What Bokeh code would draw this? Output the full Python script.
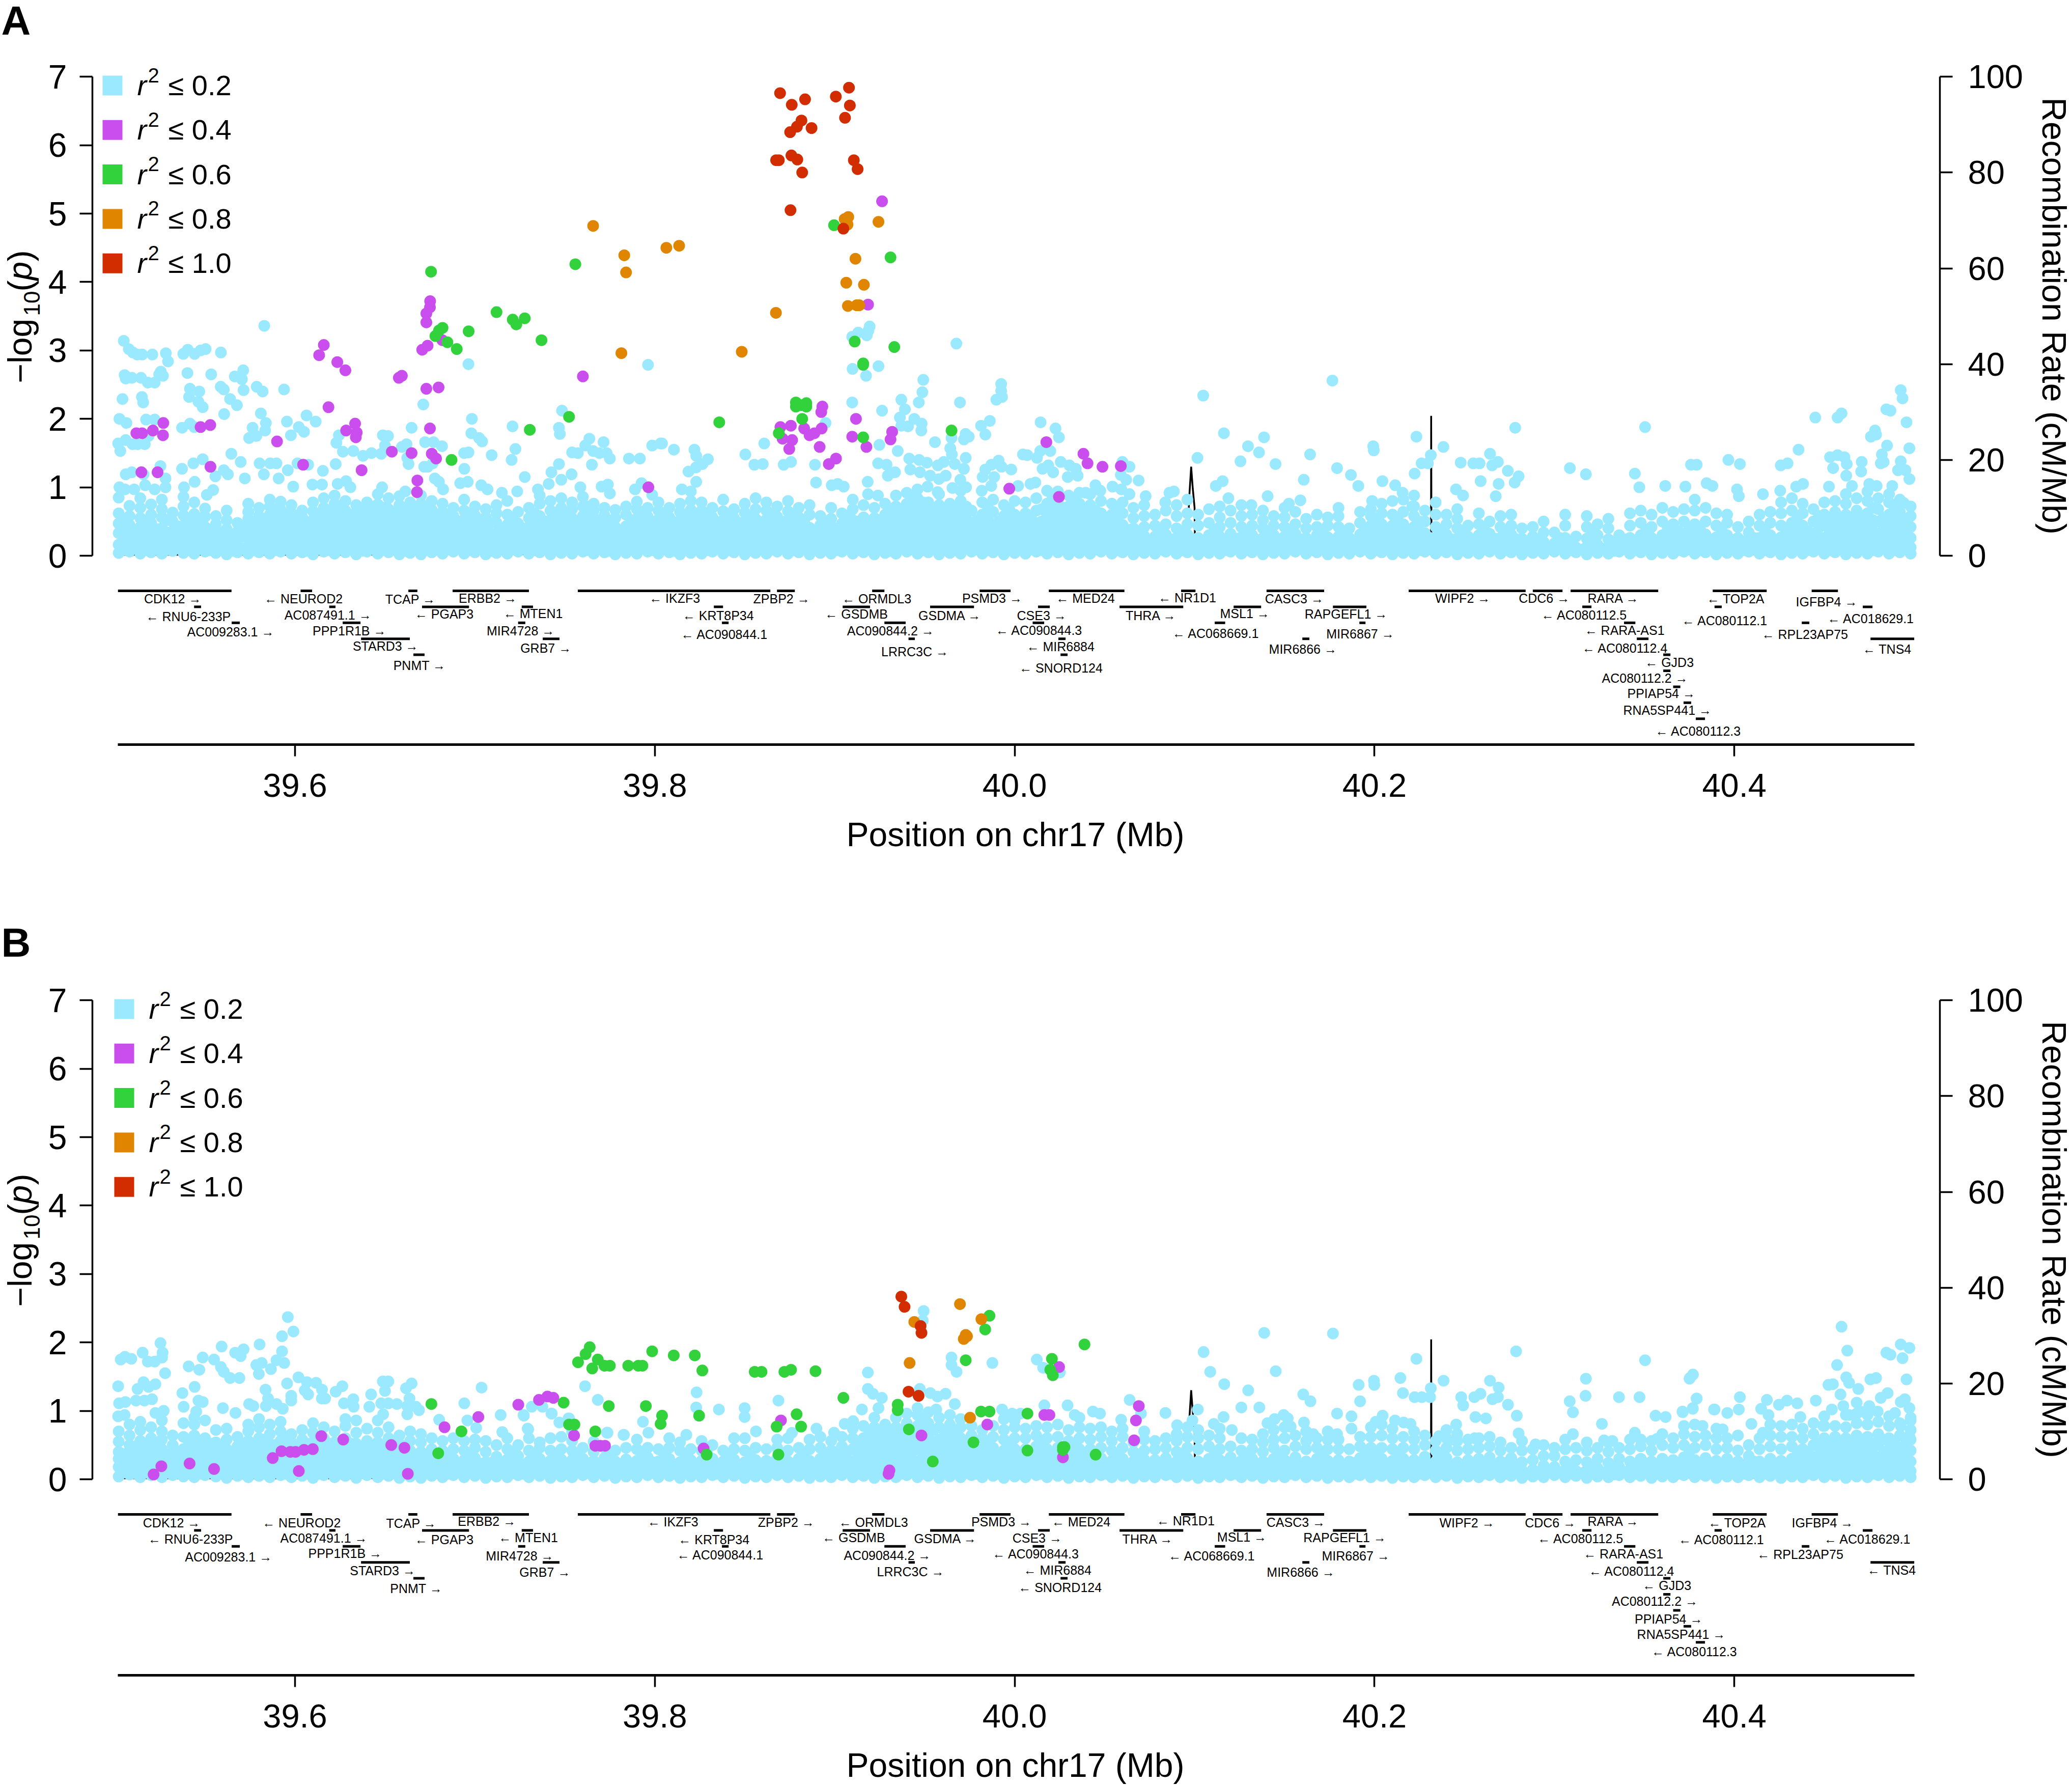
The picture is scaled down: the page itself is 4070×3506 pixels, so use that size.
from bokeh.plotting import figure
from bokeh.layouts import column, row
from bokeh.models import Range1d, LinearAxis, FixedTicker, ColumnDataSource
from bokeh.core.properties import value
from bokeh.embed import file_html
from bokeh.resources import INLINE

# ---- positions are in kb downstream of 39.5 Mb; -log10(p) values ----
x_ticks = [39.6, 39.8, 40.0, 40.2, 40.4]
x_tick_labels = ["39.6", "39.8", "40.0", "40.2", "40.4"]
p_ticks = [0, 1, 2, 3, 4, 5, 6, 7]
rec_ticks = [0, 20, 40, 60, 80, 100]
legend_labels = ["0.2", "0.4", "0.6", "0.8", "1.0"]
colors = ["#9BE9FF", "#CA4DEE", "#31D23B", "#E08500", "#D12D00"]

rec_kb = [0,120,180,200,210,300,400,500,590,596.5,596.6,596.8,597,598.1,599,600,600.3,700,731.4,731.5,731.7,800,900,985,990,990.5,991.2,993,994,1000]
rec_val = [.2,.2,.3,.9,.3,.5,.7,.5,.4,.4,5.7,10,12,18.6,14,10,.5,.4,.4,29.2,.4,.5,.3,.5,.5,5,11.7,9,1,.5]

gene_names = ["CDK12","NEUROD2","TCAP","ERBB2","IKZF3","ZPBP2","ORMDL3","PSMD3","MED24","NR1D1","CASC3","WIPF2","CDC6","RARA","TOP2A","IGFBP4",
 "RNU6-233P","AC087491.1","PGAP3","MTEN1","KRT8P34","GSDMB","GSDMA","CSE3","THRA","MSL1","RAPGEFL1","AC080112.5","AC080112.1","AC018629.1",
 "AC009283.1","PPP1R1B","MIR4728","AC090844.1","AC090844.2","AC090844.3","AC068669.1","MIR6867","RARA-AS1","RPL23AP75",
 "STARD3","GRB7","LRRC3C","MIR6884","MIR6866","AC080112.4","TNS4",
 "PNMT","SNORD124","GJD3","AC080112.2","PPIAP54","RNA5SP441","AC080112.3"]
gene_dir = [1,-1,1,1,-1,1,-1,1,-1,-1,1,1,1,1,-1,1,
 -1,1,-1,-1,-1,-1,1,1,1,1,1,-1,-1,-1,
 1,1,1,-1,1,-1,-1,1,-1,-1,
 1,1,1,-1,1,-1,-1,
 1,-1,-1,1,1,1,-1]
gene_row = [0]*16+[1]*14+[2]*10+[3]*7+[4]*3+[5,6,7,8]
gene_start = [1.6,103.1,163,187.6,257.2,367.9,420.8,480.5,519,592.5,640,719,788,809,888,943,
 43.9,119,170.6,226,332.8,404.4,453,513,558.3,621.7,676.9,815.5,889,971.4,
 64.8,126.5,224,337.3,427.6,510,611.2,691.6,838.7,937.5,
 136.7,237.7,441,524.3,659.9,845.8,975.7,
 165.8,525.5,860.5,860.5,866,871.8,878.6]
gene_end = [64.7,109.5,168,230,364.2,377.8,427.6,497.7,561,600.5,672,784,804.5,857.7,918,957.6,
 47.8,122.5,196.7,232.3,337.9,419.6,477.4,519.5,593.7,637,695.5,820.6,893,976.8,
 69.3,136.4,228,341,439.4,516.4,617,695,845,941.7,
 163.8,247,444.5,528.3,663.8,852.3,1000,
 172,529.4,864.5,864.5,870,876,883.7]
label_kb_a = [32,104.7,164.1,207.1,311,370.4,423.3,487.5,539.3,595.9,655.4,749,794.3,832.8,900.7,951.3,
 40.7,118.3,182.9,232.3,335.2,412,464,515,575.8,627.9,684.2,816.6,894.7,975.9,
 64.2,130.2,225.4,338.7,431,513.6,611.8,692.1,839,939.2,
 150.3,239.4,444.5,525.5,660.2,839.3,984.9,
 169.2,525.7,863.9,850.3,859.4,862.8,880]
label_row_a = [.48,.48,.53,.46,.46,.48,.48,.46,.46,.43,.48,.46,.46,.46,.48,.7,
 1.62,1.5,1.46,1.43,1.53,1.46,1.56,1.56,1.56,1.43,1.45,1.5,1.85,1.75,
 2.56,2.5,2.5,2.71,2.5,2.48,2.66,2.69,2.48,2.71,
 3.44,3.57,3.79,3.49,3.66,3.57,3.66,
 4.68,4.84,4.49,5.45,6.43,7.48,8.78]
label_kb_b = [31.4,103.6,164.6,206.6,310,373,421.5,492.6,536.9,595,656.3,751.4,797.7,832.8,901.5,949,
 41.9,116,182.9,229.6,332.8,410.5,461.6,512.5,574,626.3,683.5,814.6,892.9,974,
 63,127.8,224.9,336.4,429.2,511.8,609.6,689.6,838.3,936.6,
 148.7,238.9,442.1,523.8,659,843,987.4,
 167.4,525.2,862.5,855.8,863.5,870.5,877.9]
label_row_b = [.51,.53,.56,.43,.46,.49,.49,.46,.46,.4,.48,.54,.54,.43,.54,.54,
 1.54,1.49,1.57,1.46,1.59,1.46,1.51,1.48,1.53,1.43,1.46,1.5,1.58,1.54,
 2.65,2.44,2.6,2.52,2.57,2.47,2.6,2.6,2.48,2.5,
 3.52,3.6,3.58,3.5,3.6,3.56,3.5,
 4.63,4.58,4.44,5.43,6.54,7.49,8.57]

# ---------- Panel A points ----------
purple_a = [(11.8,1.79),(15,1.79),(21,1.83),(26.8,1.94),(26.6,1.76),(47.5,1.88),(52.9,1.91),(14.6,1.22),(23.6,1.22),(53,1.3),(104.5,1.33),(90,1.67),(118.6,2.17),(113.4,2.93),(116,3.08),(123.5,2.83),(128,2.71),(133.4,1.93),(128.4,1.83),(134.3,1.8),(133.8,1.73),(137,1.25),(153.8,1.52),(164.8,1.5),(168,1.1),(167.8,.93),(157.7,2.6),(159.4,2.63),(170.7,3.01),(173.7,3.07),(173,3.54),(175,3.63),(175.1,3.72),(173,3.41),(181.9,3.15),(173,2.44),(179.8,2.46),(175,1.86),(176,1.49),(178.4,1.42),(260,2.62),(296.4,1),
 (426.3,5.18),(418.5,3.67),(393.1,2.18),(392.5,2.1),(411.8,2),(369.8,1.88),(375.6,1.9),(383,1.86),(386,1.76),(388.7,1.79),(392.7,1.86),(371,1.71),(376.3,1.69),(374.7,1.56),(391.6,1.59),(409.7,1.74),(417.6,1.59),(431.9,1.81),(431,1.7),(400.7,1.42),(396.7,1.34),(517.6,1.66),(538.2,1.49),(540.5,1.35),(548.8,1.3),(559,1.31),(497,.98),(524.6,.86)]
green_a = [(175.6,4.15),(178,3.21),(180,3.29),(182,3.33),(184.7,3.12),(189.9,3.02),(196.5,3.28),(212,3.56),(221,3.45),(223,3.38),(227.7,3.47),(237,3.15),(187,1.4),(230.5,1.84),(252.3,2.03),(255.8,4.26),
 (399.6,4.83),(431,4.36),(411.1,3.13),(433.1,3.05),(415.8,2.81),(415.8,2.79),(335.8,1.95),(378.4,2.24),(378.4,2.18),(381.5,2.2),(384.2,2.23),(384.2,2.18),(381.9,2),(368.9,1.79),(415.8,1.73),(464.9,1.83)]
orange_a = [(265.7,4.82),(283,4.39),(284,4.14),(281.4,2.96),(306.4,4.5),(313.5,4.53),(348.3,2.98),(367.3,3.55),(411.5,4.34),(406.4,3.99),(416.2,3.96),(407.3,3.65),(412.2,3.66),(413.6,3.66),(424.3,4.88),(405.5,4.92),(407.5,4.95),(407.1,4.84)]
red_a = [(369.6,6.76),(376.1,6.59),(383.5,6.67),(400.6,6.71),(407.9,6.84),(408.4,6.58),(405.7,6.4),(381.5,6.36),(379,6.27),(375.2,6.19),(387.1,6.25),(367.4,5.78),(368.9,5.78),(375.9,5.85),(379.2,5.79),(381.9,5.6),(410.6,5.78),(412.7,5.65),(375.4,5.05),(404.8,4.78)]
cyan_hi_a = [(4.8,3.14),(7.6,3.02),(9.9,2.97),(12.3,2.94),(15,2.94),(20.7,2.94),(28.2,2.96),(29.4,2.84),(37.9,2.95),(40.4,3.01),(44.2,2.95),(47.5,3),(50.3,3.02),(58.8,2.97),(82.9,3.36),
 (5.3,2.64),(5.9,2.59),(9.3,2.6),(14.4,2.6),(18.2,2.53),(22,2.53),(25.4,2.69),(24.5,2.65),(26.6,2.63),(40.2,2.67),(53.4,2.65),(66.5,2.62),(71.2,2.71),(70.5,2.58),(71.4,2.42),(58.7,2.47),(60.4,2.43),(78.7,2.47),(82,2.4),(41.6,2.44),(46.8,2.4),(41.1,2.32),(46.3,2.25),(48.7,2.17),(4.1,2.29),(14.9,2.32),(15.6,2.24),(63.9,2.29),(67.7,2.2),(60.6,2.07),(93.9,2.43),
 (2.4,2),(6.3,1.94),(17.2,1.99),(22,1.99),(37.2,1.87),(41.6,1.93),(44,1.88),(1.7,1.64),(2.9,1.53),(5.9,1.69),(9.7,1.63),(12.5,1.63),(16.5,1.63),(18.6,1.75),(81,2.08),(83.8,1.94),(76.4,1.87),(83.4,1.83),(74.5,1.72),(78.5,1.75),(95.5,1.96),(97.7,1.76),(102.1,1.88),(105,1.81),(106.4,2.05),(111.5,1.96),(124.4,1.76),(123,1.65),
 (64.6,1.49),(69.8,1.37),(25.2,1.31),(37.2,1.27),(43.5,1.35),(48.7,1.41),(55.7,1.16),(60.4,1.25),(62.7,1.19),(72.1,1.13),(80.3,1.35),(86.2,1.35),(89.7,1.35),(82.7,1.19),(90.9,1.13),(96,1.25),(101.4,1.35),(107.3,1.33),(115.5,1.24),(122.6,1.34),(126.6,1.52),(132.4,1.53),(137.8,1.46),(142.5,1.5),(147.9,1.49),(148.8,1.76),(151.7,1.75),(150,1.61),(159.4,1.59),(162,1.63),(164.8,1.87),(171.3,2.21),(162.4,1.43),(163.1,1.34),(172.3,1.66),(177,1.66),(181.7,1.6),(198.3,2),(198,1.79),(202.3,1.72),(204,1.67),(196.4,2.8),(220.9,1.89),(222.5,1.56),(220.4,1.4),(209.3,1.47),(194,1.5),(196.4,1.51),(194.1,1.27),(171.8,1.3),(173.7,1.3),(176.5,1.35),(227.7,1.15),(246.7,1.87),(247.2,1.78),(248.4,2.12),(296.2,2.79),(263.6,1.71),(261.3,1.61),(271.5,1.66),(265.7,1.53),(269.2,1.5),(273.2,1.5),(275,1.42),(265,1.33),(254,1.51),(257.2,1.5),(246.7,1.34),(253.7,1.19),(242.5,1.22),(248,1.11),(285.6,1.42),(291.7,1.42),(298.5,1.61),(303.2,1.64),(292.6,1.06),(289,.97),(298.5,.89),
 (2.4,1),(5.5,.97),(10.6,.97),(16.7,1.03),(22,.97),(28,1),(28,1.13),(15.8,1.19),(5.9,1.19),(9.3,1.22),(38.3,1),(44.2,1.08),(54.5,.96),(51,.89),(99,1.01),(109.7,1.04),(115,1.04),(123.7,1.05),(128.4,1.09),(130.8,1),(148.4,1),(161.3,.94),(177.7,1.13),(180,1.08),(182.3,.97),(191.8,1.06),(196,1.08),(203.5,1.03),(207,.97),(215,.92),(223.5,.94),(235,.97),(241,1.05),(258.6,1),(270.4,1.01),(273.9,1.04),(275,.91),
 (304,1.64),(310.6,1.55),(322,1.55),(323,1.46),(326.5,1.34),(329.5,1.41),(322.9,1.29),(318.7,1.23),(323,1.08),(315,.97),(320,.94),(350.3,1.48),(360.8,1.64),(355.3,1.33),(360,1.34),(371.6,1.33),(375.7,1.37),(389,1.33),(394.9,1.94),(409.7,2.24),(426.3,2.12),(437,2.28),(439,2.14),(446.7,2.24),(448.7,2.39),(449.2,2.57),(436.2,2.02),(437,1.9),(440.7,1.89),(444.2,2),(448.3,1.93),(448.1,1.83),(469.6,2.24),(467.6,3.1),(492.5,2.51),(492.5,2.41),(489.8,2.28),(493,2.32),(486.2,1.97),(481.3,1.9),(483.7,1.77),(464.9,1.72),(471.8,1.7),(474.5,1.74),(472.7,1.78),(455.7,1.66),(424.8,1.62),(435,1.53),(464.2,1.57),(465.1,1.48),(472.8,1.43),(514.4,1.95),(522.7,1.86),(524.6,1.73),(514.2,1.53),(519.8,1.53),(512.4,1.43),(504.6,1.48),(507,1.47),
 (409.7,3.2),(413,3.26),(417.8,3.22),(419.4,3.35),(418.7,3.29),(409.9,2.73),(424.3,2.77),(417.4,2.63),(389.6,1.07),(398.3,1.03),(401.6,1.05),(405,1.01),(418.3,1.08),(418.5,.9),(424,.88),(424.1,1.35),(428.8,1.33),(429.5,1.17),(433.5,1.22),(441.4,1.42),(446.9,1.4),(451.2,1.36),(442,1.26),(447.4,1.22),(453,1.17),(457.3,1.32),(460.6,1.37),(461.7,1.17),(457.9,1.12),(466.7,1.34),(471.8,1.27),(469.8,1.11),(473,1),(451.6,1.01),(465.4,.99),(457.2,.93),(487.1,1.33),(491.1,1.39),(492.7,1.3),(498.1,1.26),(483.7,1.26),(482.2,1.15),(488.6,1.15),(487,1.02),(481.7,.95),(501.9,1.02),(508.8,1.05),(515.5,1.27),(518.7,1.32),(525.6,1.37),(530.4,1.32),(534,1.27),(529.5,1.15),(535,1.17),(521.4,1.22),(511.5,1.07),(544.9,1.03),(554.4,1.01),(539.5,.92),(547.6,.95),(559.3,.97),(563.8,.9),(559.9,1.37),(563.8,1.3),(559,1.18),(562,1.11),(568.9,1.1),(572.8,.87),(586,.92),(583.7,.78),
 (604.8,2.34),(616.3,1.79),(638.6,1.73),(629.7,1.6),(635.8,1.51),(625.5,1.38),(645,1.34),(601.6,1.43),(676.6,2.56),(664.2,1.48),(679.2,1.28),(686.9,1.18),(691,1.02),(699.3,1.6),(699.6,1.54),(723.3,1.74),(738.3,1.59),(731.3,1.47),(726.2,1.35),(729.7,1.35),(722.3,1.2),(747.9,1.36),(754.9,1.35),(758.4,1.35),(764.2,1.49),(765.4,1.32),(768.6,1.37),(774.1,1.24),(778.2,1.87),(780.1,1.16),(777.9,1.07),(769,1.05),(759,1.09),(745.3,.97),(749.2,.88),(767.4,.87),(808.6,1.28),(817.5,1.19),(850.4,1.88),(844.7,1.2),(847.2,1),(861.6,1.02),(872.8,1.01),(875.9,1.33),(879.1,1.33),(896.7,1.4),(903.1,1.34),(884.6,1.06),(887.8,1.02),(901.5,.97),(902.5,.87),
 (935.7,1.55),(925.8,1.32),(929.6,1.35),(945,2.02),(957.4,2.02),(959.6,2.08),(953.2,1.44),(957.4,1.47),(961.2,1.44),(954.9,1.28),(962.5,1.34),(962.2,1.17),(984.5,2.14),(986.8,2.12),(992.5,2.42),(993.5,2.3),(995.7,1.95),(997.3,1.57),(975.9,1.74),(978.8,1.77),(978.2,1.83),(984.9,1.61),(982,1.48),(983,1.37),(981.4,1.35),(992.5,1.38),(970.8,1.37),(970.5,1.23),(965.4,1.02),(952.6,1.01),(938.2,1.05),(934.4,1.01),(925.5,.95),(915.9,.9),(975,1.05),(979.1,1.02),(987.8,1.02),(991,1.25),(995.1,1.25),(997.3,1.12),(994.2,.77),
 (588.5,.94),(611.8,1.02),(615.6,1.09),(618.8,.84),(631.6,.74),(640.6,.87),(660.7,1.11),(658.8,.81),(652.4,.76),(704.4,1.09),(711.5,1.03),(715.6,.92),(721,.72),(698.7,.8)]
# dense lower band: kb -> -log10(p) x 100
cyan_lo_a = {2:[4,16,33,47,62,85],8:[6,20,31,45,58,73],14:[3,12,27,42,55,70,84],20:[5,18,30,48,60,75],26:[3,14,29,40,56,68,82],32:[7,21,36,50,63],38:[4,15,28,44,59,72,86],44:[3,17,33,47,61,78],50:[6,19,31,42,57,69],56:[4,13,27,46,58],62:[2,16,30,39,52,66],68:[5,20,35,48],74:[3,14,26,41,54,64,76],80:[5,18,32,44,58,70],86:[3,12,24,36,48,60,72,82],92:[6,17,29,42,55,67,79],98:[3,15,27,38,50,62,74],104:[5,16,30,43,56,66],110:[2,13,25,39,52,65,78],116:[6,18,31,44,57,70,84],122:[3,14,26,38,50,63,76,88],128:[5,17,29,41,54,66,80],134:[2,12,24,37,49,62,74],140:[6,16,28,40,53,65,78],146:[3,14,26,39,51,64,75,90],152:[5,18,30,43,55,68,84],158:[2,13,25,37,50,62,74,87],164:[4,16,28,40,52,65,78],170:[2,14,26,38,51,63,76,88],176:[5,17,29,42,54,67,80],182:[3,15,27,39,52,64,76],188:[6,18,30,43,58,70],194:[3,14,27,41,53,66,82],200:[5,16,31,44,59,72],206:[2,13,25,40,56,68],212:[4,18,33,48,62,74],218:[3,15,29,45,60,80],224:[6,19,34,47,64],230:[3,14,26,42,55,70],236:[5,17,30,44,58,76,88],242:[2,13,27,39,52,66,80],248:[4,16,29,43,56,70,84],254:[3,15,28,41,55,68,78],260:[6,18,30,44,58,72,86],266:[3,14,27,40,53,66,76],272:[5,17,31,45,59,70],278:[2,13,26,42,55,67],284:[4,16,29,43,60,72],290:[3,15,27,41,54,68,79],296:[6,18,32,44,57,70],302:[3,14,26,40,53,66,78],308:[5,17,30,42,56,70],314:[2,13,25,38,51,64,76],320:[4,16,28,41,54,67,80],326:[3,15,27,40,53,66,78],332:[6,18,30,43,56,70],338:[3,14,26,39,52,65,82],344:[5,17,29,42,55,68],350:[2,13,25,38,50,63,76],356:[4,16,28,41,54,68,84],362:[3,15,27,40,53,66,78],368:[6,18,31,44,57,72],374:[3,14,26,39,52,65,80],380:[5,17,30,43,56,70],386:[2,13,27,41,60,74],392:[4,16,30,45,58],398:[3,15,28,42,54,70],404:[6,18,33,47,62],410:[3,14,26,38,52,68,82],416:[5,17,31,44,56,74],422:[2,13,25,40,55,70],428:[4,16,29,44,60,76],434:[3,15,28,42,58,72,88],440:[6,18,30,44,60,76,92],446:[3,14,26,40,55,70,84,97],452:[5,17,31,45,62,78],458:[2,13,27,42,58,74,90],464:[4,16,29,43,60,76],470:[3,15,28,44,62,80,95],476:[6,18,32,48,66],482:[3,14,27,42,60,78],488:[5,17,30,46,64,82],494:[2,13,25,41,58,74],500:[4,16,29,44,60,80],506:[3,15,28,43,62,78],512:[6,18,33,48,66,84],518:[3,14,27,42,58,76,95],524:[5,17,30,45,62,78,94],530:[2,13,26,41,56,72,88],536:[4,16,29,44,60,76,92],542:[3,15,28,43,58,74,90],548:[6,18,31,46,62,80],554:[3,14,27,42,60,76],560:[5,17,30,45,62,78],566:[2,13,26,40,55,70],572:[4,16,29,42,58,74],578:[3,15,28,44,60],584:[6,18,31,46,66],590:[3,14,26,40,58,74],596:[5,17,31,46,62,82],602:[2,13,26,44,60],608:[4,16,30,48,68],614:[3,15,28,42,56,72],620:[6,18,32,48,66],626:[3,14,27,42,58,74],632:[5,17,30,44,60],638:[2,13,26,40,52,66],644:[4,16,30,44,58],650:[3,15,28,42,56,70],656:[6,18,32,46,64],662:[3,14,26,40,54],668:[5,17,30,42,60],674:[2,13,27,44,56],680:[4,16,28,42,58,70],686:[3,15,26,40],692:[6,18,31,48,64],698:[3,14,28,44,58,68],704:[5,17,30,46,62,76],710:[2,13,27,44,60,80],716:[4,16,30,46,64,82],722:[3,15,28,42,58,72,88],728:[6,18,33,50,66],734:[3,14,26,42,60,78],740:[5,17,31,46,60],746:[2,13,25,40,54,68],752:[4,16,28,44],758:[3,15,30,46,62],764:[6,18,32,50],770:[3,14,26,42,58],776:[5,17,31,44,60],782:[2,13,25,40],788:[4,14,28,42],794:[3,9,20,34,50],800:[6,18,34],806:[3,14,26,44,60],812:[5,12,28],818:[2,13,25,42,58],824:[4,16,30,46],830:[3,11,24,40,54],836:[6,18,30],842:[3,14,26,44,62],848:[5,17,30,48,66],854:[2,13,26,42,60],860:[4,16,30,50,70],866:[3,15,28,46,64],872:[6,18,32,50,68],878:[3,14,28,46,66,82],884:[5,17,31,50,70],890:[2,13,27,44,62],896:[4,16,30,48,60],902:[3,15,26,42],908:[6,18,34,50],914:[3,14,26,44,60],920:[5,17,30,48,64],926:[2,13,27,44,62,78],932:[4,16,30,48,66,84],938:[3,15,28,44,62,76],944:[6,18,32,50,68],950:[3,14,26,44,60,78],956:[5,17,31,46,64,80],962:[2,13,27,44,60,76,90],968:[4,16,30,48,66,84],974:[3,15,28,44,62,80,94],980:[6,18,32,50,68,84],986:[3,14,27,44,60,78,90],992:[5,17,30,46,64,82],998:[3,12,26,42,58,72]}
cyan_mid_a = {5:[9,25,41,53],11:[11,24,38],17:[8,23,37,51],23:[10,26,39],29:[9,22,34,52],35:[11,28,43],41:[8,22,36,52],47:[10,25,39,55],53:[8,21,37],59:[9,23,34],65:[7,24],71:[10,28,41],77:[8,20,34,48],83:[11,25,39,52],89:[8,18,30,43,55,67],95:[11,23,35,48,61],101:[9,21,34,46,59],107:[7,22,36,49],113:[10,19,32,45,58],119:[8,24,37,50,64],125:[11,20,32,44,57,69],131:[9,23,35,48,60],137:[7,18,30,43,56,68],143:[10,22,34,46,59,71],149:[8,20,33,45,57,70],155:[11,24,36,49,62],161:[7,19,31,44,56,68],167:[10,22,34,46,58,71],173:[8,20,32,45,57,69],179:[11,23,35,48,60],185:[9,21,33,46,58],191:[12,24,37,50],197:[8,20,34,47,60],203:[10,23,38,52],209:[7,19,32,48],215:[11,25,40],221:[9,22,37,53],227:[12,26,40],233:[8,20,34,48,62],239:[11,22,35,50],245:[8,22,36,50,63],251:[10,23,35,48,62],257:[12,24,37,51],263:[8,21,34,47,60,72],269:[11,24,38,52],275:[7,19,34,48],281:[10,22,36],287:[9,23,36,52],293:[11,21,34,48,61],299:[8,22,38,50],305:[10,20,33,47,60],311:[7,21,36,49],317:[9,19,32,44,58],323:[11,22,34,47,60],329:[8,21,33,46,59],335:[10,24,36,49],341:[8,20,32,46,58],347:[11,23,35,48],353:[8,19,31,44,57],359:[10,22,34,47],365:[9,21,33,46,60],371:[11,24,37,50],377:[8,20,33,45,58],383:[10,23,36,50],389:[8,20,34],395:[11,22,35,48],401:[8,24,40],407:[10,20,32,45,58],413:[8,23,37,50],419:[11,19,33,47],425:[9,22,36,52],431:[7,21,35,50,66],437:[11,24,37,52,68],443:[9,22,36,52,68,84],449:[8,20,33,48,64,78],455:[11,24,38,54,70],461:[9,22,36,52,68],467:[8,21,36,54,70],473:[11,22,38,55,72],479:[9,21,35,52],485:[8,24,38,55,72],491:[11,20,34,50],497:[8,22,36,52,68],503:[10,22,37,53],509:[9,24,40,56],515:[8,21,36,50,68],521:[11,22,35,50,66,84],527:[9,24,38,54,70],533:[8,20,34,50,64,80],539:[10,22,37,52,68],545:[9,22,36,50,66],551:[11,25,39,54],557:[8,21,36,52,70],563:[10,23,38],569:[8,20,34],575:[10,22],581:[9,23,38],587:[10,24],593:[8,20,34],599:[10,24],605:[8,20],611:[10,23,38],617:[8,22],623:[10,25],629:[8,20,35],635:[10,23],641:[9,20,33],647:[10,23],653:[9,22,35],659:[10,24],665:[8,20],671:[10,24,36],677:[8,20],683:[9,22,35],689:[10,21],695:[9,24,38],701:[8,21,36,52],707:[10,23,38],713:[8,20,35,52],719:[10,23,38],725:[8,22,36,50],731:[11,26],737:[8,20,34],743:[10,24],749:[8,19,33],755:[10,22],761:[9,22,38],767:[11,25],773:[8,20,34],779:[10,24],785:[8,19],791:[8,21],797:[12],803:[10,26],809:[8,20],815:[9],821:[8,19,33],827:[10],833:[7,18],839:[10,24],845:[8,20],851:[10,23,38],857:[8,20],863:[10,23,40],869:[8,21,36],875:[10,25,41],881:[8,21,38],887:[10,24],893:[8,20,36],899:[10,23],905:[8,21],911:[10,26],917:[8,20,36],923:[10,23],929:[8,20,36],935:[10,23,38,56],941:[8,21,36],947:[10,25,41,58],953:[8,21,36,52],959:[10,24,38,54],965:[8,21,38,56],971:[10,23,38,54],977:[8,21,36,52,70],983:[10,25,40,56],989:[8,20,36,52,70],995:[10,23,38,54]}

# ---------- Panel B points ----------
purple_b = [(21.4,.07),(25.7,.19),(41.4,.23),(55,.15),(87.6,.31),(92.5,.41),(97.4,.4),(100.3,.4),(105,.43),(109.9,.44),(102.1,.12),(114.6,.63),(126.8,.58),(153.5,.5),(160.8,.46),(162.7,.08),(183.1,.76),(201.9,.91),(224.1,1.09),(235.6,1.16),(240.3,1.21),(243.6,1.19),(255.1,.64),(266.9,.49),(269.7,.49),(272.3,.49),(327.1,.45),(370.1,.86),(430.4,.13),(429.9,.08),(448.2,.64),(484.8,.8),(516.5,.94),(519.3,.94),(524.7,1.64),(526.8,.32),(569,1.07),(567.4,.86),(566.4,.57)]
green_b = [(175.8,1.1),(192.5,.7),(179.6,.38),(249.3,1.12),(252.3,.8),(255.3,.8),(266.9,.7),(274.4,1.07),(257.3,1.71),(261.5,1.83),(263.8,1.93),(268.3,1.75),(265.2,1.62),(272,1.66),(275,1.66),(285.2,1.66),(290.8,1.66),(293.1,1.66),(298.5,1.87),(295,1.07),(304,.93),(303.2,.81),(310.5,1.81),(322.2,1.81),(326.4,1.59),(355.5,1.57),(359.3,1.57),(372,1.57),(375.7,1.6),(389.3,1.58),(324.6,.93),(404.8,1.19),(378.8,.95),(381.3,.77),(367.7,.77),(368.7,.36),(328.8,.36),(435,1.09),(435,1.01),(441.2,.73),(454.5,.26),(477.1,.54),(481.3,.99),(486,.99),(507.1,.96),(507.1,.42),(526.8,.47),(527.7,.47),(526.8,.43),(545,.36),(472.8,1.74),(486,2.39),(483.6,2.19),(520.7,1.76),(519.8,1.6),(521.2,1.52),(538.8,1.97)]
orange_b = [(469.6,2.56),(481.5,2.34),(472.8,2.11),(471.7,2.05),(473.5,2.09),(444.2,2.3),(441.6,1.7),(475.2,.9)]
red_b = [(437,2.67),(438.8,2.52),(447.7,2.24),(448.2,2.14),(441,1.28),(446.6,1.22)]
cyan_hi_b = [(3.1,1.75),(5.5,1.79),(9,1.76),(15.3,1.85),(18.2,1.72),(22,1.72),(25.2,1.99),(26.4,1.85),(26.1,1.78),(27.8,1.55),(1.7,1.36),(12.5,1.32),(15.8,1.42),(18.6,1.35),(22.4,1.39),(2.2,1.11),(5.7,1.13),(11.6,1.15),(16.3,1.15),(20.5,1.17),(1.7,.92),(5.3,.94),(22.4,.97),(27,1),
 (40.9,1.65),(46.8,1.6),(48.7,1.78),(55,1.75),(59.2,1.94),(58.8,1.64),(60.4,1.57),(63.9,1.48),(69.1,1.48),(66.7,1.85),(69.8,1.8),(71.4,1.9),(80.3,1.97),(78.5,1.67),(81.5,1.7),(79.9,1.54),(86.6,1.61),(89.7,1.74),(92.8,1.87),(94,1.7),(92.8,2.09),(96,2.37),(99.1,2.16),
 (44.2,1.35),(37.4,1.26),(38.1,1.06),(46.3,1.15),(48.7,1.13),(45.1,.99),(59.9,1.04),(66.9,.97),(74.5,1.1),(76.8,1.07),(83.6,1.31),(85,1.18),(83.8,1.07),(89.7,1.1),(93.2,1.03),(95.6,1.4),(97.9,1.22),(97.9,1.15),(101.9,1.49),(106.6,1.42),(111.7,1.41),(105.4,1.3),(107.3,1.24),(115,1.31),(114.9,1.18),(116.7,1.18),(122.6,1.28),(126.3,1.36),(127.2,1.11),(132.4,1.17),(132.6,1.06),(142.3,1.24),(148.8,1.43),(151.9,1.43),(150,1.29),(147.9,1.11),(151.9,1.11),(156.6,1.1),(161.7,1.33),(164.8,1.4),(163.6,1.18),(162.4,1.07),(162.4,.95),(167.2,1.06),(168.9,1.01),(149,.95),(141.3,1.06),(203.7,1.34),(194.1,1.11),(214.3,.94),(227,.94),(231.6,1.06),(237.5,1.06),(242.7,.96),(261.2,1.36),(268.3,1.16),(246.9,.83),(252,.89),(293.4,.84),(180.1,.87),(195.8,.86),(200.7,.75),(215.2,.69),(229.3,.74),(282.8,.65),(273.4,.68),
 (323.2,1.27),(323,1.05),(335.6,1.02),(349.9,1.04),(349.9,.91),(368.7,1.15),(418.4,1.56),(418.4,1.32),(421.2,1.25),(426.2,1.19),(415.1,1.02),(424.3,1.04),(449.4,2.46),(448.9,2.32),(447.3,1.32),(453.1,1.26),(457.1,1.21),(461.6,1.25),(464.9,1.78),(464.9,1.67),(467.7,1.57),(487.6,1.7),(512.3,1.75),(515.8,1.63),(525.1,1.56),(466.7,1.1),(456.4,1.02),(493,1.02),(498.6,.96),(503.3,.96),(516.5,1.08),(529.4,1.08),(543.5,.99),(547.4,.96),(563.9,1.16),(570.2,.96),(583.8,.97),(559.2,.87),(533.4,.94),(405.5,.81),(410.2,.85),(389.8,.74),(356.2,.7),(376.2,.68),(399.6,.68),(242.5,.96),(227.2,.93),(252.3,.89),(296.4,.68),(317.5,.65),(282.6,.65),(273.7,.68),(229.6,.73),
 (605,1.86),(608.7,1.57),(616.5,1.39),(629.8,1.3),(638.7,2.14),(645.1,1.58),(676.9,2.13),(601.8,1.02),(616.1,.91),(626,1.05),(636,1.05),(660.4,1.24),(664.4,1.14),(691.2,1.38),(699.7,1.44),(699.9,1.38),(692,1.14),(714.4,1.48),(715.8,1.26),(722.3,1.2),(726.3,1.2),(730.9,1.2),(731.3,1.33),(723.3,1.76),(738.4,1.44),(778.7,1.87),(748.2,1.2),(749.3,1.08),(755.5,1.2),(758.9,1.25),(764.2,1.44),(769,1.34),(765.6,1.17),(768.6,1.2),(774.2,1.09),(779.1,.93),(756.1,.91),(761.9,.89),(745.4,.8),(817.5,1.47),(817.3,1.22),(808.5,1.14),(810.3,.98),(826.4,.81),(850.4,1.74),(835.9,1.2),(847.3,1.2),(856.2,.93),(861.8,.91),(877,1.53),(875.1,1.47),(879,1.18),(889,1.02),(871.3,.98),(876.9,1.03),
 (679.2,.96),(687.2,.92),(704.5,.93),(711.4,.86),(716.2,.83),(720,.81),(700.7,.84),(687.2,.74),(649.5,.94),(651.8,.89),(644.5,.88),(640.5,.82),(660.8,.83),(653.4,.77),(598.8,.86),(590.3,.79),(610.7,.81),(620.7,.72),(665.9,.66),(679.2,.66),(755.7,.6),(744.8,.57),(735.9,.63),(780.1,.67),(789.5,.51),(810.3,.66),(844.7,.68),(832.2,.56),(827.6,.57),(857,.59),
 (959.6,2.23),(962.8,1.88),(957.1,1.67),(952.3,1.38),(954.8,1.39),(962.2,1.49),(959,1.24),(963.8,1.41),(968.9,1.32),(968,1.12),(975.6,1.46),(978.8,1.48),(984.5,1.85),(986.8,1.82),(992.5,1.97),(997.3,1.92),(993.5,1.77),(995.7,1.46),(985.2,1.26),(981.4,1.19),(994.8,1.17),(992.5,1.13),(975,1.07),(997.3,1.04),(989.3,.97),(998,.9),(954.2,1.02),(960.6,1.07),(963.8,.94),(970.2,.99),(979.7,.99),(945.3,1.15),(935,1.11),(929.3,1.15),(924.8,1.09),(918.1,1.16),(914.9,1.03),(919,.94),(936.7,.91),(949.4,.78),(992.5,.78),(997.3,.63),(903.1,1.2),(902.5,1.02),(888.7,1.02),(896.1,.97),(871.2,.99),(876.9,1.04),(879.1,1.18),(875.3,1.48),(909.5,.81),(915.9,.68),(882.3,.78),(893.5,.73)]
cyan_lo_b = {2:[4,18,30,40,55,70],8:[7,22,35,50,64,80],14:[3,15,28,42,56,72,84],20:[6,18,32,46,60,76],26:[3,14,30,44,58,70,86],32:[6,20,34,50,64],38:[4,15,28,44,62,82],44:[3,17,33,48,64,80,90],50:[6,19,31,46,60,86],56:[4,13,27,42,54,72],62:[2,16,30,44,58,74],68:[5,20,35,48,62],74:[3,14,26,42,56,70,80],80:[5,18,32,46,60,76,88],86:[3,12,24,38,52,66,80],92:[6,17,29,42,56,70,84],98:[3,15,27,40,54,66],104:[5,16,30,44,58,72],110:[2,13,25,40,54,68,82],116:[6,18,31,46,60,76],122:[3,14,26,40,54,70],128:[5,17,29,44,60,78,88],134:[2,12,24,38,52,68,86],140:[6,16,28,42,56,74],146:[3,14,26,40,54,68,86],152:[5,18,30,44,60,76],158:[2,13,25,38,52,64],164:[4,16,28,42,56,70],170:[2,14,26,40,54,66],176:[5,17,29,44,60],182:[3,15,27,42,56],188:[6,18,30,44,60],194:[3,14,28,42,56],200:[5,16,31,46,58],206:[2,13,25,40,56],212:[4,18,33,50],218:[3,15,29,44,60],224:[6,19,34,50],230:[3,14,26,42,60],236:[5,17,30,46,54],242:[2,13,27,42,60],248:[4,16,29,44,62],254:[3,15,28,42,56,70],260:[6,18,30,46],266:[3,14,27,40,55],272:[5,17,31,46],278:[2,13,26,42],284:[4,16,29,46],290:[3,15,27,44,58],296:[6,18,32,46],302:[3,14,26,44],308:[5,17,30,46,60],314:[2,13,25,42,54],320:[4,16,28,44],326:[3,15,27,42,56],332:[6,18,30,50],338:[3,14,26,42],344:[5,17,29,44,60],350:[2,13,25,42,60],356:[4,16,28,46],362:[3,15,27,44],368:[6,18,31,46,58],374:[3,14,26,42,60],380:[5,17,30,46],386:[2,13,27,44,58],392:[4,16,30,46,62],398:[3,15,28,42,56],404:[6,18,33,48,62],410:[3,14,26,44,60,74],416:[5,17,31,46,60,78],422:[2,13,25,42,58,76,90],428:[4,16,29,46,62,80],434:[3,15,28,44,60,76,90],440:[6,18,32,48,64,82,96],446:[3,14,26,44,60,78,94,104],452:[5,17,31,46,64,82,98],458:[2,13,27,42,58,76,90],464:[4,16,29,46,62,80,94],470:[3,15,28,44,60,76,88],476:[6,18,32,48,64,78],482:[3,14,27,44,60,72],488:[5,17,30,46,62,78],494:[2,13,25,42,58,72,88],500:[4,16,29,44,60,76,86],506:[3,15,28,44,60,74],512:[6,18,33,48,64,78],518:[3,14,27,44,60,76],524:[5,17,30,46,62,80],530:[2,13,26,42,56,72],536:[4,16,29,44,60,76,90],542:[3,15,28,44,58,74],548:[6,18,31,46,62,76],554:[3,14,27,42,56,70],560:[5,17,30,46,62,74],566:[2,13,26,40,54],572:[4,16,29,42,58,70],578:[3,15,28,44,56],584:[6,18,31,46,60],590:[3,14,26,40,56,66],596:[5,17,31,46,62,76],602:[2,13,26,44,60,72],608:[4,16,30,48,64],614:[3,15,28,44,60,74],620:[6,18,32,48],626:[3,14,27,42,60],632:[5,17,30,44,58],638:[2,13,26,40,54,66],644:[4,16,30,46,58,72],650:[3,15,28,42,60,76],656:[6,18,32,48,64],662:[3,14,26,44,56,70],668:[5,17,30,46,60],674:[2,13,27,44,58,70],680:[4,16,28,44,58],686:[3,15,26,44],692:[6,18,31,48,62],698:[3,14,28,46,62,76],704:[5,17,30,46,64,80],710:[2,13,27,44,60,74],716:[4,16,30,46,62],722:[3,15,28,44,58,70],728:[6,18,33,50,64],734:[3,14,26,42,56],740:[5,17,31,46,60,72],746:[2,13,25,42,56,66],752:[4,16,28,44,58],758:[3,15,30,46,60],764:[6,18,32,48,62],770:[3,14,26,42,54],776:[5,17,31,46],782:[2,13,25,42,56],788:[4,14,28,44],794:[3,9,20,34,50],800:[6,18,34,46],806:[3,14,26,44,58],812:[5,12,28,46],818:[2,13,25,42,54],824:[4,16,30,46],830:[3,11,24,40,54],836:[6,18,30,46],842:[3,14,26,44,58],848:[5,17,30,48,58],854:[2,13,26,42,56],860:[4,16,30,50,66],866:[3,15,28,46,60],872:[6,18,32,50,66,78],878:[3,14,28,46,62,80],884:[5,17,31,50,64],890:[2,13,27,44,60,74],896:[4,16,30,46,60],902:[3,15,26,42,64],908:[6,18,34,50],914:[3,14,26,44,60],920:[5,17,30,48,64,80],926:[2,13,27,44,62,78],932:[4,16,30,48,62,80],938:[3,15,28,44,60,74],944:[6,18,32,50,66,82],950:[3,14,26,44,60,78,92],956:[5,17,31,46,62,78],962:[2,13,27,44,60,76,94],968:[4,16,30,48,64,82,96],974:[3,15,28,44,62,80,94],980:[6,18,32,50,66,84],986:[3,14,27,44,60,78,92],992:[5,17,30,46,64,82],998:[3,12,26,42,58,72,86]}
cyan_mid_b = {5:[10,24,37],11:[9,21,34,48],17:[11,23,38,52],23:[8,25,40,54],29:[10,22,36],35:[9,23,40],41:[11,24,38,54],47:[8,22,40,56],53:[10,23,38,52],59:[8,20,34,48],65:[10,24,38],71:[9,22,37,50],77:[10,23,36,50],83:[8,20,32,45,58],89:[10,23,36,50],95:[8,21,34,48,60],101:[10,23,37,50],107:[9,21,36,52],113:[8,20,33,47],119:[11,24,38,52],125:[8,20,34,48],131:[10,22,36,52],137:[9,20,32,45],143:[11,23,36,50],149:[8,21,34,48],155:[10,24,37,52],161:[8,20,32,46],167:[10,22,36],173:[9,21,34],179:[11,24],185:[8,22,36],191:[10,24],197:[9,22,36],203:[11,23],209:[8,24],215:[10,22],221:[9,24,40],227:[8,22],233:[11,22,36],239:[9,23],245:[11,24,38],251:[8,22],257:[10,23,36],263:[9,23],269:[10,22],275:[9,23,38],281:[10,22],287:[9,23],293:[11,21,36],299:[9,25],305:[10,23,38],311:[8,21],317:[10,22,36],323:[9,22],329:[10,24,38],335:[8,22],341:[11,23,36],347:[9,21],353:[10,22,36],359:[9,21],365:[10,23],371:[9,21,36],377:[11,23],383:[9,22,38],389:[8,21],395:[10,22,36],401:[9,25,40],407:[11,24,40],413:[8,21,36,52],419:[10,20,36,52,68],425:[8,21,36,52,68],431:[10,22,36,54,70],437:[8,24,40,56,72],443:[10,23,40,56,72],449:[8,21,36,52,70,88],455:[10,24,38,54,72],461:[8,21,36,52,70],467:[10,22,36,52,68],473:[9,23,38,52],479:[8,20,36],485:[10,24,38,54],491:[8,22,36],497:[10,20,34,50],503:[8,22,36],509:[10,25,40],515:[8,21,36,52],521:[10,22,38],527:[8,21,36],533:[10,23,36,52],539:[9,22,36],545:[10,24,38],551:[8,21],557:[10,23,38],563:[8,20],569:[10,22,36],575:[9,22],581:[10,24],587:[8,21],593:[10,24,38],599:[8,20],605:[10,23],611:[8,22,36],617:[10,25],623:[8,20],629:[10,23,36],635:[8,20],641:[10,23],647:[9,22,36],653:[8,24],659:[10,20],665:[8,22],671:[10,23,36],677:[8,21],683:[9,20],689:[8,24],695:[10,22,36],701:[8,23,38],707:[10,22],713:[8,22,38],719:[10,21],725:[8,24],731:[10,21],737:[8,22,38],743:[10,20],749:[8,21],755:[10,22],761:[8,24],767:[10,20],773:[8,24],779:[10,21],785:[8],791:[8],797:[12],803:[10],809:[8,20],815:[9],821:[8,19],827:[10],833:[7,18],839:[10],845:[8,20],851:[10,23],857:[8,20],863:[10,23],869:[8,21],875:[10,25,41],881:[8,21],887:[10,24],893:[8,21],899:[10,21],905:[8,21],911:[10,26],917:[8,20],923:[10,23],929:[8,20],935:[10,22,36],941:[8,23,40],947:[10,22,36,52],953:[8,21,38,54],959:[10,22,36,52],965:[8,22,38,54],971:[10,23,38,56],977:[8,21,36,52],983:[10,25,40,58],989:[8,22,38,54],995:[10,21,34,50]}

FONT = "Liberation Sans"
TXT = "#000000"
LEFT_STRIP = 84
RIGHT_START = 3990
TOTAL_W = 4068
AXIS_BAND = 140


def mb(kb):
    return 39.5 + kb / 1000.0


def strip(width, height, x0, y_top, y_bot):
    """A plain figure whose data coordinates are page pixels, used for panel letters and axis titles."""
    s = figure(width=width, height=height, output_backend="svg", toolbar_location=None,
               x_range=Range1d(x0, x0 + width), y_range=Range1d(y_bot, y_top),
               x_axis_type=None, y_axis_type=None, outline_line_color=None,
               min_border=0, background_fill_color="white", border_fill_color="white")
    s.grid.visible = False
    return s


def put(fig, x, y, text, size, **kw):
    fig.text(x=[x], y=[y], text=[text], text_font=value(FONT), text_font_size=size,
             text_color=TXT, text_baseline="middle", **kw)


def make_panel(letter, y0, frame_top, frame_bot, fig_top, fig_h, legend_dx, letter_x, letter_y,
               cyan_hi, cyan_lo, cyan_mid, purple, green, orange, red, lab_kb, lab_row):
    def X(page_x):
        return 39.6 + (page_x - 579.0) / 3534.0

    def Y(page_y):
        return (y0 - page_y) / 134.4

    y_lo, y_hi = Y(frame_bot), Y(frame_top)
    main_h = frame_bot + AXIS_BAND - frame_top
    p = figure(width=RIGHT_START - LEFT_STRIP, height=main_h, output_backend="svg", toolbar_location=None,
               x_range=Range1d(X(181), X(3810)), y_range=Range1d(y_lo, y_hi),
               min_border_left=181 - LEFT_STRIP, min_border_right=RIGHT_START - 3810,
               min_border_top=0, min_border_bottom=AXIS_BAND,
               outline_line_color=None, background_fill_color="white", border_fill_color="white")
    p.grid.visible = False
    p.extra_y_ranges = {"rec": Range1d(y_lo * 100 / 7, y_hi * 100 / 7)}

    xa = p.xaxis[0]
    xa.bounds = (39.5016, 40.5)
    xa.ticker = FixedTicker(ticks=x_ticks)
    xa.major_label_overrides = dict(zip(x_ticks, x_tick_labels))
    xa.major_tick_in = 0
    xa.major_tick_out = 23
    xa.minor_tick_line_color = None
    xa.axis_line_width = 5
    xa.major_tick_line_width = 3.5
    xa.major_label_standoff = 34
    xa.major_label_text_font = FONT
    xa.major_label_text_font_size = "65px"
    xa.major_label_text_color = TXT

    ya = p.yaxis[0]
    ya.bounds = (0, 7)
    ya.ticker = FixedTicker(ticks=p_ticks)
    ya.major_tick_in = 0
    ya.major_tick_out = 25
    ya.minor_tick_line_color = None
    ya.axis_line_width = 3.5
    ya.major_tick_line_width = 3.5
    ya.major_label_standoff = 25
    ya.major_label_text_font = FONT
    ya.major_label_text_font_size = "66px"
    ya.major_label_text_color = TXT

    ra = LinearAxis(y_range_name="rec", bounds=(0, 100), ticker=FixedTicker(ticks=rec_ticks))
    ra.major_tick_in = 0
    ra.major_tick_out = 25
    ra.minor_tick_line_color = None
    ra.axis_line_width = 3.5
    ra.major_tick_line_width = 3.5
    ra.major_label_standoff = 30
    ra.major_label_text_font = FONT
    ra.major_label_text_font_size = "65px"
    ra.major_label_text_color = TXT
    p.add_layout(ra, "right")

    p.line([mb(k) for k in rec_kb], rec_val, y_range_name="rec", line_color="black", line_width=3.5)

    cx = [k for k, _ in cyan_hi]
    cy = [v for _, v in cyan_hi]
    for table in (cyan_lo, cyan_mid):
        for k, ys in table.items():
            for v in ys:
                cx.append(k)
                cy.append(v / 100.0)
    p.scatter([mb(k) for k in cx], cy, size=23, marker="circle", fill_color=colors[0], line_color=None)
    for pts, col in zip([purple, green, orange, red], colors[1:]):
        p.scatter([mb(k) for k, _ in pts], [v for _, v in pts], size=23, marker="circle",
                  fill_color=col, line_color=None)

    row_y = lambda r: -(69 + 31.4 * r) / 134.4
    p.segment([mb(k) for k in gene_start], [row_y(r) for r in gene_row],
              [mb(k) for k in gene_end], [row_y(r) for r in gene_row],
              line_color="black", line_width=5)
    texts = [("\u2190 " + n) if d < 0 else (n + " \u2192") for n, d in zip(gene_names, gene_dir)]
    src = ColumnDataSource(dict(x=[mb(k) for k in lab_kb], y=[row_y(r) for r in lab_row], t=texts))
    p.text("x", "y", "t", source=src, text_font=value(FONT), text_font_size="25px",
           text_align="center", text_baseline="middle", text_color=TXT)

    for i, (lab, col) in enumerate(zip(legend_labels, colors)):
        dy = 87.3 * i
        p.quad(left=[X(201 + legend_dx)], right=[X(240 + legend_dx)],
               top=[Y(y0 - 943 + dy)], bottom=[Y(y0 - 904 + dy)], fill_color=col, line_color=None)
        put(p, X(269 + legend_dx), Y(y0 - 924 + dy), "r", "56px", text_font_style="italic")
        put(p, X(290 + legend_dx), Y(y0 - 944 + dy), "2", "40px")
        put(p, X(330 + legend_dx), Y(y0 - 924 + dy), "\u2264 " + lab, "56px")

    # the strips' frames line up with the main frame inside a row, so they share its page span
    left = strip(LEFT_STRIP, main_h, 0, frame_top, frame_bot)
    up = dict(angle=90, angle_units="deg", text_align="left")
    put(left, 38, y0 - 339, "\u2212log", "66px", **up)
    put(left, 62, y0 - 471, "10", "44px", **up)
    put(left, 38, y0 - 519, "(", "66px", **up)
    put(left, 38, y0 - 541, "p", "66px", text_font_style="italic", **up)
    put(left, 38, y0 - 578, ")", "66px", **up)

    right = strip(TOTAL_W - RIGHT_START, main_h, RIGHT_START, frame_top, frame_bot)
    put(right, 4034, y0 - 471, "Recombination Rate (cM/Mb)", "66px", angle=-90, angle_units="deg",
        text_align="center")

    top = strip(TOTAL_W, frame_top - fig_top, 0, fig_top, frame_top)
    put(top, letter_x, letter_y, letter, "80px", text_font_style="bold", text_align="center")

    band_top = frame_bot + AXIS_BAND
    bottom = strip(TOTAL_W, fig_top + fig_h - band_top, 0, band_top, fig_top + fig_h)
    put(bottom, 1994, frame_bot + 176, "Position on chr17 (Mb)", "66px", text_align="center")
    return column(top, row(left, p, right, spacing=0), bottom, spacing=0)


pa = make_panel("A", 1091, 115, 1462, 0, 1700, 0, 31, 40,
                cyan_hi_a, cyan_lo_a, cyan_mid_a, purple_a, green_a, orange_a, red_a, label_kb_a, label_row_a)
pb = make_panel("B", 2905, 1930, 3290, 1700, 1804, 23, 31, 1851,
                cyan_hi_b, cyan_lo_b, cyan_mid_b, purple_b, green_b, orange_b, red_b, label_kb_b, label_row_b)

layout = column(pa, pb, spacing=0)
open("out.html", "w").write(file_html(layout, INLINE))
